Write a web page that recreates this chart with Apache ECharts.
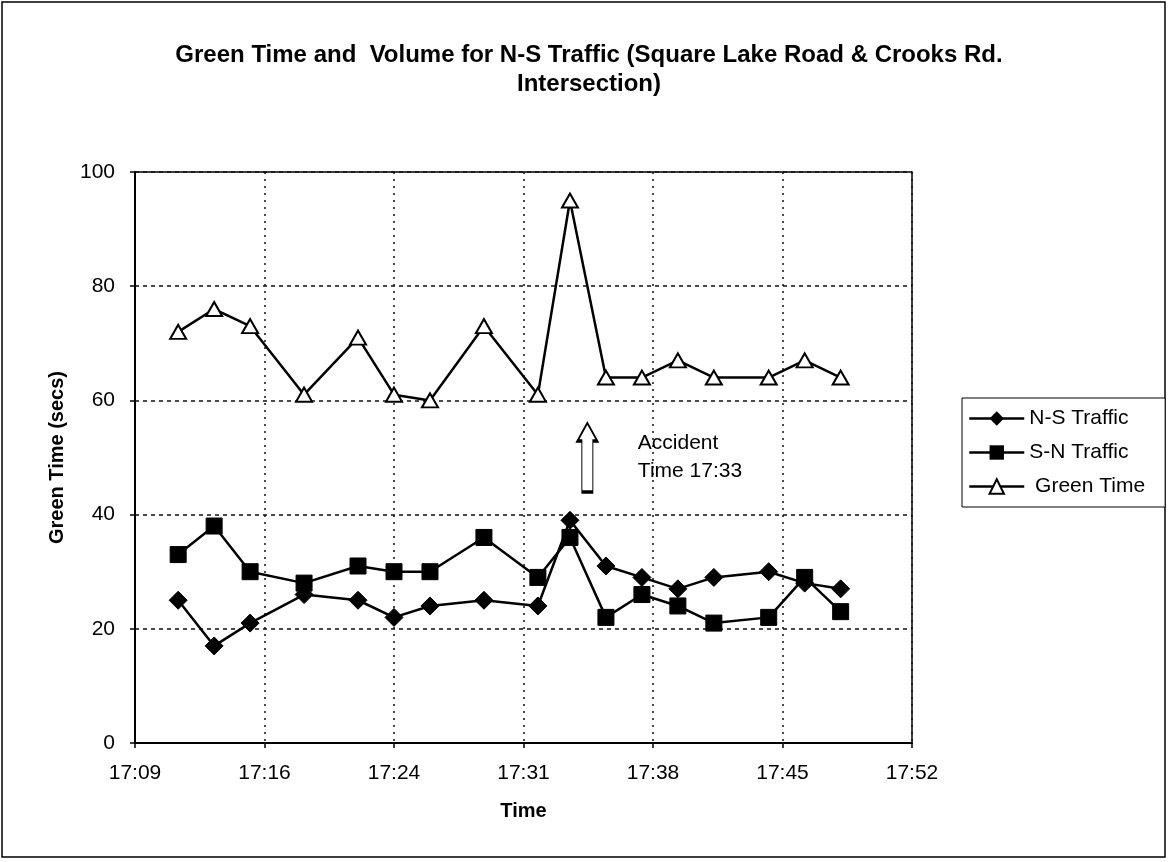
<!DOCTYPE html>
<html>
<head>
<meta charset="utf-8">
<script src="https://cdn.jsdelivr.net/npm/echarts@6/dist/echarts.min.js"></script>
<style>
html,body{margin:0;padding:0;background:#fff;}
#chart{width:1168px;height:862px;}
</style>
</head>
<body>
<div id="chart"></div>
<script>
// ---- data ----
const TITLE = 'Green Time and  Volume for N-S Traffic (Square Lake Road & Crooks Rd.\nIntersection)';
const TIMES = ['17:12:00','17:14:00','17:16:00','17:19:00','17:22:00','17:24:00','17:26:00','17:29:00','17:32:00',
               '17:33:47','17:35:47','17:37:47','17:39:47','17:41:47','17:44:50','17:46:50','17:48:50'];
const NS_TRAFFIC = [25,17,21,26,25,22,24,25,24,39,31,29,27,29,30,28,27];
const SN_TRAFFIC = [33,38,30,28,31,30,30,36,29,36,22,26,24,21,22,29,23];
const GREEN_TIME = [72,76,73,61,71,61,60,73,61,95,64,64,67,64,64,67,64];
const X_MIN_TIME = '17:09:36';
const X_MAX_TIME = '17:52:48';
const X_STEP_TIME = '00:07:12';
const Y_MIN = 0, Y_MAX = 100, Y_STEP = 20;
const ANNOT_TIME = '17:34:45';
const ANNOT_VALUE = 50;
const ANNOT_TEXT = 'Accident\nTime 17:33';

// time -> thousandths of a day (Excel style serial fraction)
function toAxis(t){
  const p = t.split(':').map(Number);
  return (p[0]*3600 + p[1]*60 + (p[2]||0)) / 86.4;
}
function fmt(v){
  const mins = v*1.44 + 1e-6;
  const h = Math.floor(mins/60);
  const m = Math.floor(mins - h*60);
  return h + ':' + (m<10?'0':'') + m;
}
function pairs(vals){ return TIMES.map((t,i)=>[toAxis(t), vals[i]]); }

const FONT = '"Liberation Sans", Arial, sans-serif';
const chart = echarts.init(document.getElementById('chart'), null, {renderer:'canvas'});
const lineBase = {type:'line', lineStyle:{color:'#000', width:2.5}, animation:false, z:3};

chart.setOption({
  backgroundColor:'#fff',
  textStyle:{fontFamily:FONT, color:'#000'},
  title:{
    text: TITLE, left:584, top:36, textAlign:'center',
    textStyle:{fontFamily:FONT, fontSize:24, fontWeight:'bold', color:'#000', lineHeight:29}
  },
  grid:{left:135, right:256, top:172, bottom:119, show:true, borderColor:'#000', borderWidth:1.5, backgroundColor:'transparent'},
  legend:{
    orient:'vertical', left:962, top:398,
    padding:[10,20,10,6], itemGap:13, itemWidth:55, itemHeight:18,
    borderColor:'#000', borderWidth:1, backgroundColor:'#fff',
    lineStyle:{width:2.5, color:'#000'},
    textStyle:{fontFamily:FONT, fontSize:21, color:'#000'},
    data:['N-S Traffic','S-N Traffic',' Green Time']
  },
  xAxis:{
    type:'value', min:toAxis(X_MIN_TIME), max:toAxis(X_MAX_TIME), interval:toAxis(X_STEP_TIME),
    name:'Time', nameLocation:'middle', nameGap:58,
    nameTextStyle:{fontFamily:FONT, fontSize:20, fontWeight:'bold', color:'#000'},
    axisLine:{lineStyle:{color:'#000', width:2}},
    axisTick:{show:true, length:5, lineStyle:{color:'#000', width:1.5}},
    axisLabel:{formatter:fmt, margin:20, fontFamily:FONT, fontSize:21, color:'#000', showMaxLabel:true, showMinLabel:true},
    splitLine:{show:true, lineStyle:{color:'#111', width:1.5, type:[2,5]}}
  },
  yAxis:{
    type:'value', min:Y_MIN, max:Y_MAX, interval:Y_STEP,
    name:'Green Time (secs)', nameLocation:'middle', nameGap:68, nameRotate:90,
    nameTextStyle:{fontFamily:FONT, fontSize:20, fontWeight:'bold', color:'#000'},
    axisLine:{show:true, lineStyle:{color:'#000', width:2}},
    axisTick:{show:true, length:5, lineStyle:{color:'#000', width:1.5}},
    axisLabel:{margin:20, fontFamily:FONT, fontSize:21, color:'#000'},
    splitLine:{show:true, lineStyle:{color:'#111', width:1.5, type:[4,4]}}
  },
  graphic:[{
    type:'rect', shape:{x:2, y:2, width:1163, height:855},
    style:{fill:null, stroke:'#000', lineWidth:1.5}, silent:true, z:-1
  }],
  series:[
    Object.assign({}, lineBase, {
      name:'N-S Traffic', data:pairs(NS_TRAFFIC),
      symbol:'diamond', symbolSize:[18,18],
      itemStyle:{color:'#000', borderColor:'#000'}
    }),
    Object.assign({}, lineBase, {
      name:'S-N Traffic', data:pairs(SN_TRAFFIC),
      symbol:'rect', symbolSize:[16,16],
      itemStyle:{color:'#000', borderColor:'#000'}
    }),
    Object.assign({}, lineBase, {
      name:' Green Time', data:pairs(GREEN_TIME),
      symbol:'triangle', symbolSize:[16,14],
      itemStyle:{color:'#fff', borderColor:'#000', borderWidth:2},
      markPoint:{
        silent:true, animation:false,
        data:[{
          coord:[toAxis(ANNOT_TIME), ANNOT_VALUE],
          symbol:'path://M10 0 L20 18 L15.5 18 L15.5 69 L4.5 69 L4.5 18 L0 18 Z',
          symbolSize:[20,69],
          itemStyle:{color:'#fff', borderColor:'#000', borderWidth:1.8},
          label:{show:true, position:'right', distance:40, formatter:ANNOT_TEXT,
                 fontFamily:FONT, fontSize:21, lineHeight:28, color:'#000', align:'left'}
        }]
      }
    })
  ]
});
</script>
</body>
</html>
